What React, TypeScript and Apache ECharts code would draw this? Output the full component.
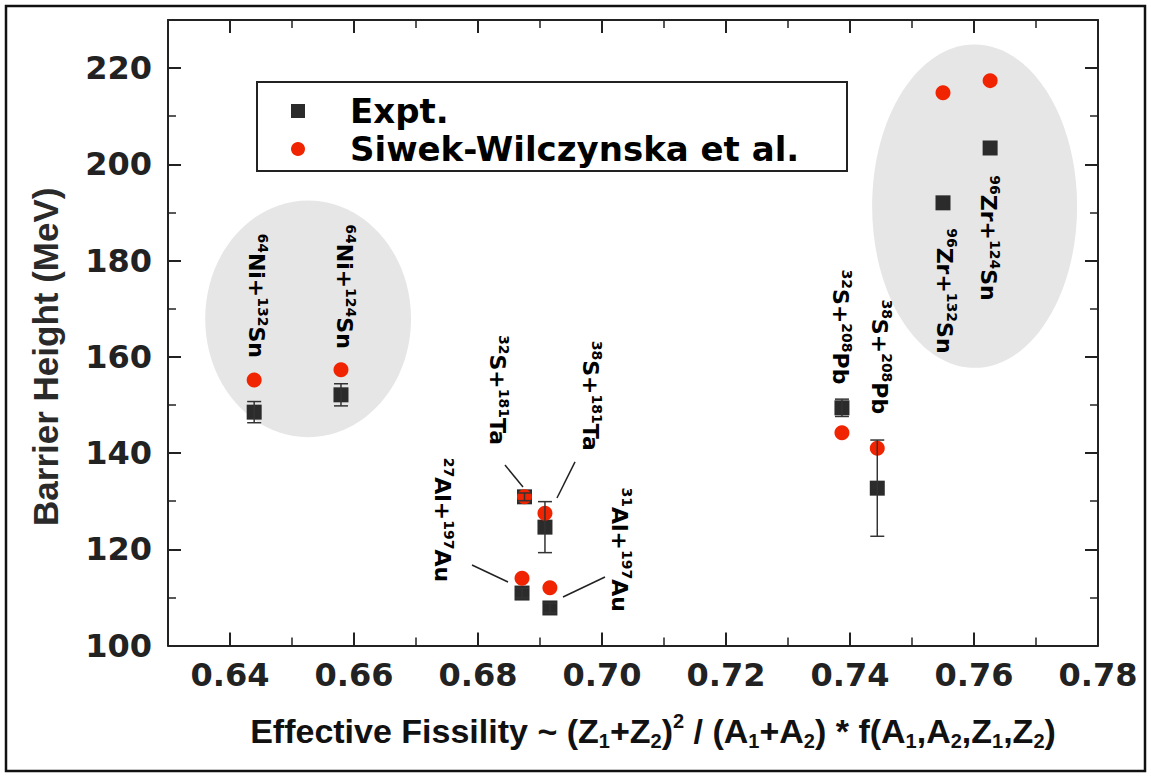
import React, { useEffect, useRef } from 'react';
import * as echarts from 'echarts';

// ---- data ----
const projMass = ['64', '64', '27', '32', '38', '31', '32', '38', '96', '96'];
const projSym = ['Ni', 'Ni', 'Al', 'S', 'S', 'Al', 'S', 'S', 'Zr', 'Zr'];
const targMass = ['132', '124', '197', '181', '181', '197', '208', '208', '132', '124'];
const targSym = ['Sn', 'Sn', 'Au', 'Ta', 'Ta', 'Au', 'Pb', 'Pb', 'Sn', 'Sn'];
const fissility = [0.6439, 0.6579, 0.6871, 0.6875, 0.6908, 0.6916, 0.7387, 0.7444, 0.755, 0.7626];
const exptBarrier = [148.5, 152.1, 110.9, 130.9, 124.6, 107.8, 149.4, 132.7, 192.0, 203.4];
const exptError = [2.2, 2.3, 1.0, 0.8, 5.3, 1.0, 1.8, 10.0, 0, 0];
const swBarrier = [155.2, 157.3, 114.0, 130.9, 127.5, 112.0, 144.2, 141.0, 214.9, 217.4];

const xTicksFormat = (v: number) => v.toFixed(2);
const yTicks = [100, 120, 140, 160, 180, 200, 220];

// ---- annotation layout (data coordinates) ----
const labelAnchors = [
  [0.6442, 172.7], [0.6584, 174.6], [0.6742, 126.1], [0.6831, 153.1], [0.6981, 151.9],
  [0.7029, 119.9], [0.7384, 166.2], [0.7448, 160.0], [0.7553, 173.7], [0.7623, 184.7],
];
const anchorReaction = [0, 1, 2, 3, 4, 5, 6, 7, 8, 9];
const leaderLines = [
  [0.68435, 137.5, 0.68726, 132.96],
  [0.69565, 138.15, 0.69274, 130.66],
  [0.67903, 116.74, 0.68484, 113.2],
  [0.70048, 114.24, 0.69371, 110.08],
];
const clusters = [
  [0.6526, 167.9, 0.0166, 24.6],
  [0.7601, 191.3, 0.01653, 33.6],
];

const labelRich = {
  m: { fontSize: 22, fontWeight: 'bold', fontFamily: 'DejaVu Sans', lineHeight: 28, fill: '#000', color: '#000' },
  s: { fontSize: 14, fontWeight: 'bold', fontFamily: 'DejaVu Sans', lineHeight: 14, verticalAlign: 'top', fill: '#000', color: '#000' },
};

export default function App() {
  const ref = useRef<HTMLDivElement>(null);
  useEffect(() => {
    document.body.style.margin = '0';
    const chart = echarts.init(ref.current!, null, { renderer: 'svg' });
    const axisColor = '#222';
    const tickCommon = { show: true, inside: true, length: 13, lineStyle: { color: axisColor, width: 2 } };
    const minorCommon = { show: true, splitNumber: 2, length: 8, lineStyle: { color: axisColor, width: 1.5 } };

    const labelData = labelAnchors.map((a, k) => [a[0], a[1], k]);

    const option: any = {
      animation: false,
      grid: { left: 168, right: 53, top: 20, bottom: 131.5 },
      xAxis: [
        {
          type: 'value', min: 0.63, max: 0.78, splitNumber: 7,
          axisLine: { show: true, lineStyle: { color: axisColor, width: 2 } },
          axisTick: tickCommon, minorTick: minorCommon, splitLine: { show: false },
          axisLabel: {
            showMinLabel: false, formatter: xTicksFormat, margin: 13,
            fontSize: 32, fontWeight: 'bold', fontFamily: 'DejaVu Sans', color: '#222',
          },
          name: '{m|Effective Fissility ~ (Z}{b|1}{m|+Z}{b|2}{m|)}{p|2}{m| / (A}{b|1}{m|+A}{b|2}{m|) * f(A}{b|1}{m|,A}{b|2}{m|,Z}{b|1}{m|,Z}{b|2}{m|)}',
          nameLocation: 'middle', nameGap: 65,
          nameTextStyle: {
            padding: [0, 0, 0, 40],
            rich: {
              m: { fontSize: 34, fontWeight: 'bold', fontFamily: 'Liberation Sans', lineHeight: 40, color: '#111' },
              b: { fontSize: 20, fontWeight: 'bold', fontFamily: 'Liberation Sans', lineHeight: 20, verticalAlign: 'bottom', color: '#111' },
              p: { fontSize: 20, fontWeight: 'bold', fontFamily: 'Liberation Sans', lineHeight: 20, verticalAlign: 'top', color: '#111' },
            },
          },
        },
        {
          type: 'value', min: 0.63, max: 0.78, splitNumber: 7, position: 'top',
          axisLine: { show: true, lineStyle: { color: axisColor, width: 2 } },
          axisTick: tickCommon, minorTick: minorCommon, splitLine: { show: false },
          axisLabel: { show: false },
        },
      ],
      yAxis: [
        {
          type: 'value', min: 100, max: 230, interval: 20,
          axisLine: { show: true, lineStyle: { color: axisColor, width: 2 } },
          axisTick: tickCommon, minorTick: minorCommon, splitLine: { show: false },
          axisLabel: {
            showMaxLabel: false, margin: 16,
            formatter: (v: number) => (yTicks.includes(Math.round(v)) ? String(Math.round(v)) : ''),
            fontSize: 32, fontWeight: 'bold', fontFamily: 'DejaVu Sans', color: '#222',
          },
          name: 'Barrier Height (MeV)', nameLocation: 'middle', nameGap: 103,
          nameTextStyle: { fontSize: 35, fontWeight: 'bold', fontFamily: 'Liberation Sans', color: '#2a2a2a', lineHeight: 40, padding: [0, 48, 0, 0] },
        },
        {
          type: 'value', min: 100, max: 230, interval: 20, position: 'right',
          axisLine: { show: true, lineStyle: { color: axisColor, width: 2 } },
          axisTick: tickCommon, minorTick: minorCommon, splitLine: { show: false },
          axisLabel: { show: false },
        },
      ],
      legend: {
        data: [
          { name: 'Expt.', icon: 'rect' },
          { name: 'Siwek-Wilczynska et al.', icon: 'circle' },
        ],
        orient: 'vertical', left: 291, top: 92, padding: 0, itemGap: 0,
        itemWidth: 14, itemHeight: 14,
        textStyle: { fontSize: 34, fontWeight: 'bold', fontFamily: 'DejaVu Sans', color: '#000', lineHeight: 38, padding: [0, 0, 0, 40] },
        selectedMode: false,
      },
      graphic: [
        { type: 'rect', silent: true, shape: { x: 6, y: 6, width: 1139, height: 765 }, style: { fill: 'none', stroke: '#111', lineWidth: 2.5 } },
        { type: 'rect', silent: true, shape: { x: 257, y: 82, width: 590, height: 89 }, style: { fill: 'none', stroke: '#222', lineWidth: 2 } },
      ],
      series: [
        {
          type: 'custom', name: 'clusters', z: 1, silent: true,
          data: clusters,
          renderItem: (params: any, api: any) => {
            const c = api.coord([api.value(0), api.value(1)]);
            const s = api.size([api.value(2), api.value(3)]);
            return { type: 'ellipse', shape: { cx: c[0], cy: c[1], rx: s[0], ry: s[1] }, style: { fill: '#e6e6e6' } };
          },
        },
        {
          type: 'scatter', name: 'Expt.', z: 2, symbol: 'rect', symbolSize: 15,
          itemStyle: { color: '#2b2b2b', opacity: 1 },
          data: fissility.map((x, i) => [x, exptBarrier[i]]),
        },
        {
          type: 'scatter', name: 'Siwek-Wilczynska et al.', z: 3, symbol: 'circle', symbolSize: 15,
          itemStyle: { color: '#f02400', opacity: 1 },
          data: fissility.map((x, i) => [x, swBarrier[i]]),
        },
        {
          type: 'custom', name: 'errors', z: 4, silent: true,
          data: fissility.map((x, i) => [x, exptBarrier[i] - exptError[i], exptBarrier[i] + exptError[i]]).filter((d, i) => exptError[i] > 0),
          renderItem: (params: any, api: any) => {
            const x = api.value(0);
            const lo = api.coord([x, api.value(1)]);
            const hi = api.coord([x, api.value(2)]);
            const w = 7;
            const st = { stroke: '#333', lineWidth: 1.5 };
            return {
              type: 'group', children: [
                { type: 'line', shape: { x1: lo[0], y1: lo[1], x2: hi[0], y2: hi[1] }, style: st },
                { type: 'line', shape: { x1: lo[0] - w, y1: lo[1], x2: lo[0] + w, y2: lo[1] }, style: st },
                { type: 'line', shape: { x1: hi[0] - w, y1: hi[1], x2: hi[0] + w, y2: hi[1] }, style: st },
              ],
            };
          },
        },
        {
          type: 'custom', name: 'leaders', z: 4, silent: true,
          data: leaderLines,
          renderItem: (params: any, api: any) => {
            const a = api.coord([api.value(0), api.value(1)]);
            const b = api.coord([api.value(2), api.value(3)]);
            return { type: 'line', shape: { x1: a[0], y1: a[1], x2: b[0], y2: b[1] }, style: { stroke: '#222', lineWidth: 1.5 } };
          },
        },
        {
          type: 'custom', name: 'labels', z: 5, silent: true,
          data: labelData,
          renderItem: (params: any, api: any) => {
            const p = api.coord([api.value(0), api.value(1)]);
            const k = anchorReaction[params.dataIndex];
            const txt = `{s|${projMass[k]}}{m|${projSym[k]}+}{s|${targMass[k]}}{m|${targSym[k]}}`;
            return {
              type: 'text', x: p[0], y: p[1], rotation: -Math.PI / 2,
              style: { text: txt, rich: labelRich, align: 'center', verticalAlign: 'middle', fill: '#000', fontSize: 22, fontWeight: 'bold', fontFamily: 'DejaVu Sans' },
            };
          },
        },
      ],
    };
    chart.setOption(option);
    return () => chart.dispose();
  }, []);
  return <div ref={ref} style={{ width: 1151, height: 777, background: '#fff' }} />;
}
